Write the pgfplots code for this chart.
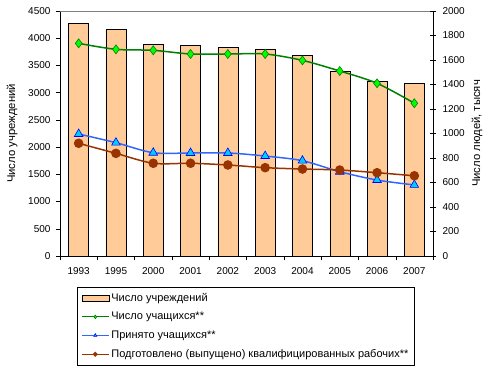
\documentclass[border=0pt]{standalone}
\usepackage{fontspec}
\setmainfont{Liberation Sans}
\usepackage{pgfplots}
\pgfplotsset{compat=1.18}
\definecolor{barc}{HTML}{FFCC99}
\definecolor{gline}{HTML}{008000}
\definecolor{gfill}{HTML}{00FF00}
\definecolor{bline}{HTML}{3366FF}
\definecolor{bfill}{HTML}{00CCFF}
\definecolor{bedge}{HTML}{0000FF}
\definecolor{brn}{HTML}{993300}
\begin{document}
\begin{tikzpicture}[x=1pt,y=1pt]
\useasboundingbox (0,0) rectangle (493,375);
\begin{axis}[
 at={(60pt,119pt)}, anchor=south west, scale only axis, width=373pt, height=245pt,
 xmin=-0.5, xmax=9.5, ymin=0, ymax=4500,
 axis x line*=bottom, axis y line*=left, axis line style={-, black},
 xtick={0,...,9}, xticklabels={1993,1995,2000,2001,2002,2003,2004,2005,2006,2007},
 major x tick style={draw=none},
 minor xtick={-0.5,0.5,...,9.5},
 minor tick length=4pt, major tick length=4pt,
 ytick={0,500,...,4500},
 tick align=outside, tick style={black, thin},
 xticklabel style={yshift=-4pt},
 yticklabel style={xshift=-2pt},
 /pgf/number format/assume math mode=true,
 /pgf/number format/1000 sep={},
 ylabel={Число учреждений},
 ylabel style={at={(axis description cs:-0.1287,0.5)}, anchor=center, font=\fontsize{11.3pt}{13pt}\selectfont},
 ybar, bar width=20pt,
]
\addplot[fill=barc, draw=black] coordinates {(0,4270) (1,4164) (2,3888) (3,3870) (4,3833) (5,3797) (6,3686) (7,3398) (8,3214) (9,3172)};
\draw[gray] (rel axis cs:0,1) -- (rel axis cs:1,1);
\end{axis}
\begin{axis}[
 at={(60pt,119pt)}, anchor=south west, scale only axis, width=373pt, height=245pt,
 xmin=-0.5, xmax=9.5, ymin=0, ymax=2000,
 axis x line=none, axis y line*=right, axis line style={-, black},
 ytick={0,200,...,2000},
 tick align=center, major tick length=6pt, tick style={black, thin},
 yticklabel style={xshift=3pt},
 /pgf/number format/assume math mode=true,
 /pgf/number format/1000 sep={},
 ylabel={Число людей, тысяч},
 ylabel style={at={(axis description cs:1.118,0.5)}, anchor=center, font=\fontsize{11.3pt}{13pt}\selectfont},
 legend image code/.code={\draw[mark repeat=2,mark phase=2,#1,line width=1.2pt,mark size=1.8pt] plot coordinates {(0pt,0pt) (13.5pt,0pt) (27pt,0pt)};},
 legend style={at={(0.0456,-0.1265)}, anchor=north west, draw=black, thin, legend cell align=left, row sep=5.5pt, inner xsep=4pt, inner ysep=4pt, font=\fontsize{11pt}{13pt}\selectfont},
 legend cell align=left,
]
\addlegendimage{legend image code/.code={\draw[fill=barc,draw=black] (0pt,-3pt) rectangle (27pt,3pt);}}
\addlegendentry{Число учреждений}
\addplot[gline, line width=1.5pt, smooth, mark=diamond*, mark size=4.5pt, mark options={fill=gfill, draw=gline, line width=0.6pt}] coordinates {(0,1736) (1,1687) (2,1679) (3,1649) (4,1649) (5,1649) (6,1597) (7,1510) (8,1410) (9,1247)};
\addlegendentry{Число учащихся**}
\addplot[bline, line width=1.5pt, smooth, mark=triangle*, mark size=5pt, mark options={fill=bfill, draw=bedge, line width=0.6pt}] coordinates {(0,996) (1,925) (2,843) (3,841) (4,841) (5,816) (6,778) (7,688) (8,620) (9,580)};
\addlegendentry{Принято учащихся**}
\addplot[brn, line width=1.5pt, smooth, mark=*, mark size=4pt, mark options={fill=brn, draw=brn}] coordinates {(0,920) (1,838) (2,757) (3,757) (4,743) (5,721) (6,710) (7,702) (8,680) (9,655)};
\addlegendentry{Подготовлено (выпущено) квалифицированных рабочих**}
\end{axis}
\end{tikzpicture}
\end{document}
